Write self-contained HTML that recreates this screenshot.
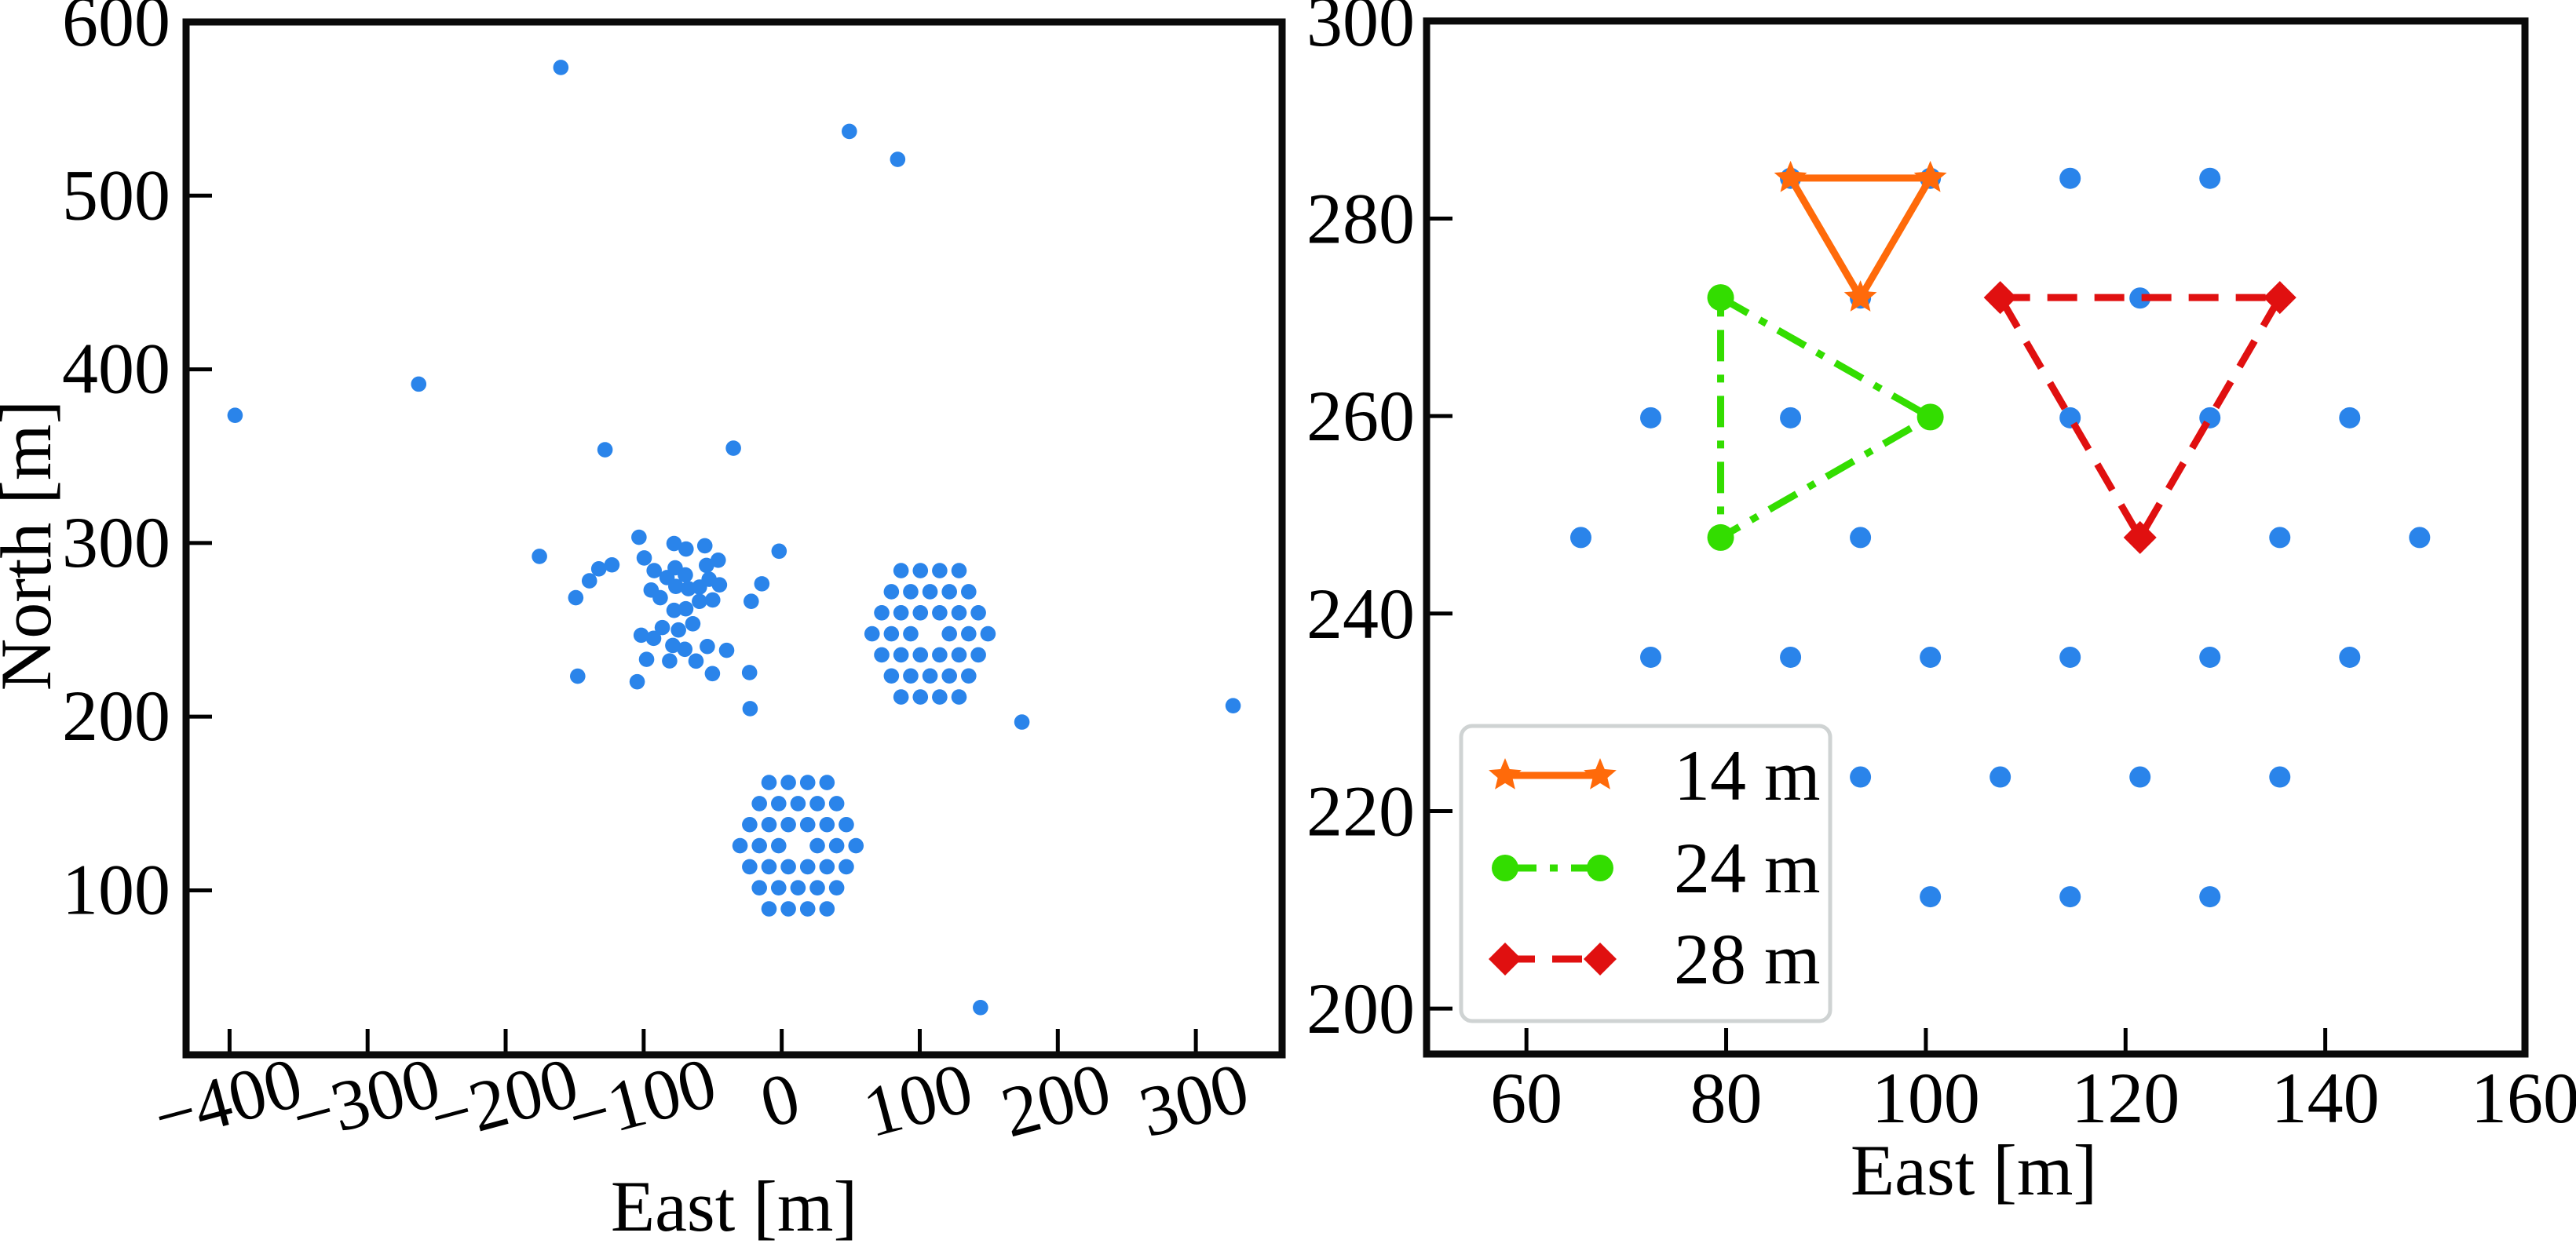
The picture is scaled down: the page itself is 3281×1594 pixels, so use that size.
<!DOCTYPE html>
<html><head><meta charset="utf-8"><style>
html,body{margin:0;padding:0;background:#fff;}
svg{display:block;}
text{font-family:"Liberation Serif","DejaVu Serif",serif;}
</style></head><body>
<svg id="fig" xmlns="http://www.w3.org/2000/svg" width="3281" height="1594" viewBox="0 0 3281 1594" font-family="Liberation Serif, DejaVu Serif, serif">
<g id="left"></g>
<g id="right"></g>
</svg>
<script>
// ---- Left panel data ----
const leftXTicks = [-400,-300,-200,-100,0,100,200,300];
const leftYTicks = [100,200,300,400,500,600];
const leftXLabels = ["\u2212400","\u2212300","\u2212200","\u2212100","0","100","200","300"];
const leftYLabels = ["100","200","300","400","500","600"];
const scatterEast = [-396,-263,-160,49,84,-128,-35,174,327,144,
 -175.5,-103.4,-78.0,-69.3,-55.7,-1.9,-99.6,-132.5,-123.0,-139.3,-92.4,-77.2,-83.1,-69.8,-54.5,-46.0,-52.6,-45.1,-59.6,-67.6,-76.7,-94.6,-88.0,-149.2,-14.4,-22.1,-59.6,-50.0,-78.0,-69.5,-64.4,-86.5,-74.8,-101.8,-92.8,-78.9,-70.2,-53.9,-39.9,-97.9,-81.2,-62.1,-50.2,-23.3,-147.8,-104.7,-22.9];
const scatterNorth = [373.5,391.5,573.8,537,520.9,353.7,354.6,196.9,206.3,32.5,
 292.3,303.3,299.7,296.5,298.4,295.3,291.4,285.1,287.4,278.2,284.1,285.7,280.1,281.6,287.1,290.1,279.1,275.9,274.6,273.7,275.0,272.9,268.5,268.5,276.5,266.4,266.4,267.2,261.2,262.1,253.5,251.3,249.9,246.9,245.1,241.0,238.8,240.4,238.2,233.0,232.1,232.0,224.8,225.4,223.3,220.1,204.6];
const hexCentreEast = [107.45, 11.8];
const hexCentreNorth = [247.7, 125.7];
const hexRowCounts = [4,5,6,7,6,5,4];
const hexSpacing = 14;
// ---- Right panel data ----
const rightXTicks = [60,80,100,120,140,160];
const rightYTicks = [200,220,240,260,280,300];
const baseline14East = [86.45,100.45,93.45,86.45];
const baseline14North = [284.1,284.1,272.0,284.1];
const baseline24East = [79.45,100.45,79.45,79.45];
const baseline24North = [272.0,259.9,247.7,272.0];
const baseline28East = [107.45,135.45,121.45,107.45];
const baseline28North = [272.0,272.0,247.7,272.0];
const legendLabels = ["14 m","24 m","28 m"];

const NS="http://www.w3.org/2000/svg";
const FF="Liberation Serif, DejaVu Serif, serif";
function mk(tag,attrs,parent){const e=document.createElementNS(NS,tag);for(const k in attrs)e.setAttribute(k,attrs[k]);if(tag==='text')e.setAttribute('font-family',FF);parent.appendChild(e);return e;}

function hexPoints(cx,cy){const pts=[];const dy=hexSpacing*Math.sqrt(3)/2;
 hexRowCounts.forEach((n,r)=>{const y=cy+(3-r)*dy;for(let i=0;i<n;i++){const x=cx+(i-(n-1)/2)*hexSpacing;if(r===3&&i===3)continue;pts.push([x,y]);}});return pts;}

// ---- Left panel ----
const L={x0:237,x1:1633,y0:28,y1:1344,xmin:-431.5,xmax:362.5,ymin:5.3,ymax:600};
const lx=v=>L.x0+(v-L.xmin)/(L.xmax-L.xmin)*(L.x1-L.x0);
const ly=v=>L.y1-(v-L.ymin)/(L.ymax-L.ymin)*(L.y1-L.y0);
const gl=document.getElementById('left');
const lpts=mk('g',{},gl);


scatterEast.forEach((e,i)=>{const c=mk('circle',{cx:lx(e),cy:ly(scatterNorth[i]),r:9.8,fill:'#2a84ea'},lpts);
 
 });
hexCentreEast.forEach((ce,k)=>{hexPoints(ce,hexCentreNorth[k]).forEach(p=>{const c=mk('circle',{cx:lx(p[0]),cy:ly(p[1]),r:9.8,fill:'#2a84ea'},lpts);
 
 });});
leftXTicks.forEach((t,i)=>{const x=lx(t);mk('line',{x1:x,x2:x,y1:L.y1,y2:L.y1-33,stroke:'#000','stroke-width':5},gl);
 const tx=mk('text',{x:x,y:1432,'font-size':92,'text-anchor':'middle',transform:`rotate(-15 ${x} 1410)`},gl);tx.textContent=leftXLabels[i];
 
 });
leftYTicks.forEach((t,i)=>{const y=ly(t);if(t<600)mk('line',{x1:L.x0,x2:L.x0+33,y1:y,y2:y,stroke:'#000','stroke-width':5},gl);
 const tx=mk('text',{x:217,y:y+30,'font-size':92,'text-anchor':'end'},gl);tx.textContent=leftYLabels[i];
 
 });
const lf=mk('rect',{x:L.x0,y:L.y0,width:L.x1-L.x0,height:L.y1-L.y0,fill:'none',stroke:'#0a0a0a','stroke-width':9},gl);


const lxt=mk('text',{x:935,y:1568,'font-size':92,'text-anchor':'middle'},gl);lxt.textContent='East [m]';


const lyt=mk('text',{x:0,y:0,'font-size':92,'text-anchor':'middle',transform:'translate(64 695) rotate(-90)'},gl);lyt.textContent='North [m]';



// ---- Right panel ----
const R={x0:1817,x1:3216,y0:26.8,y1:1343,xmin:50,xmax:160,ymin:195.4,ymax:300};
const rx=v=>R.x0+(v-R.xmin)/(R.xmax-R.xmin)*(R.x1-R.x0);
const ry=v=>R.y1-(v-R.ymin)/(R.ymax-R.ymin)*(R.y1-R.y0);
const gr=document.getElementById('right');
const cp=mk('clipPath',{id:'rclip'},gr);mk('rect',{x:R.x0,y:R.y0,width:R.x1-R.x0,height:R.y1-R.y0},cp);
const rpts=mk('g',{'clip-path':'url(#rclip)'},gr);


hexPoints(hexCentreEast[0],hexCentreNorth[0]).forEach(p=>{const c=mk('circle',{cx:rx(p[0]),cy:ry(p[1]),r:13.5,fill:'#2a84ea'},rpts);
 
 });
function star(cx,cy,R1,col,parent){let d='';for(let i=0;i<10;i++){const r=i%2?R1*0.45:R1;const a=-Math.PI/2+i*Math.PI/5;d+=(i?'L':'M')+(cx+r*Math.cos(a)).toFixed(1)+' '+(cy+r*Math.sin(a)).toFixed(1);}return mk('path',{d:d+'Z',fill:col},parent);}
function diamond(cx,cy,s,col,parent){return mk('path',{d:`M${cx} ${cy-s}L${cx+s} ${cy}L${cx} ${cy+s}L${cx-s} ${cy}Z`,fill:col},parent);}
const series=[
 {e:baseline14East,n:baseline14North,col:'#ff6a0a',dash:'none',mark:'star',name:'baseline-14m'},
 {e:baseline24East,n:baseline24North,col:'#33dd00',dash:'40 17 10 17',mark:'circle',name:'baseline-24m'},
 {e:baseline28East,n:baseline28North,col:'#e01010',dash:'38 22',mark:'diamond',name:'baseline-28m'}];
function marker(s,x,y,p){if(s.mark==='star')return star(x,y,22,s.col,p);if(s.mark==='circle')return mk('circle',{cx:x,cy:y,r:17,fill:s.col},p);return diamond(x,y,21,s.col,p);}
series.forEach(s=>{const g=mk('g',{},gr);
 
 
 const pts=s.e.map((e,i)=>rx(e)+','+ry(s.n[i])).join(' ');
 mk('polyline',{points:pts,fill:'none',stroke:s.col,'stroke-width':9,'stroke-dasharray':s.dash},g);
 s.e.slice(0,3).forEach((e,i)=>{const m=marker(s,rx(e),ry(s.n[i]),g);
  
  });});
rightXTicks.forEach(t=>{const x=rx(t);if(t<160)mk('line',{x1:x,x2:x,y1:R.y1,y2:R.y1-33,stroke:'#000','stroke-width':5},gr);
 const tx=mk('text',{x:x,y:1430,'font-size':92,'text-anchor':'middle'},gr);tx.textContent=String(t);
 
 });
rightYTicks.forEach(t=>{const y=ry(t);if(t<300)mk('line',{x1:R.x0,x2:R.x0+33,y1:y,y2:y,stroke:'#000','stroke-width':5},gr);
 const tx=mk('text',{x:1802,y:y+31,'font-size':92,'text-anchor':'end'},gr);tx.textContent=String(t);
 
 });
// legend
const lg=mk('g',{},gr);


mk('rect',{x:1861,y:925,width:470,height:376,rx:14,fill:'#fff',stroke:'#cfd3d3','stroke-width':5},lg);
const legY=[988,1106,1222];
series.forEach((s,i)=>{const e=mk('g',{},lg);
 
 
 mk('line',{x1:1917,x2:2038,y1:legY[i],y2:legY[i],stroke:s.col,'stroke-width':9,'stroke-dasharray':s.dash},e);
 marker(s,1917,legY[i],e);marker(s,2038,legY[i],e);
 const tx=mk('text',{x:2132,y:legY[i]+31,'font-size':92},e);tx.textContent=legendLabels[i];});
const rf=mk('rect',{x:R.x0,y:R.y0,width:R.x1-R.x0,height:R.y1-R.y0,fill:'none',stroke:'#0a0a0a','stroke-width':9},gr);


const rxt=mk('text',{x:2514,y:1522,'font-size':92,'text-anchor':'middle'},gr);rxt.textContent='East [m]';


</script>
</body></html>
